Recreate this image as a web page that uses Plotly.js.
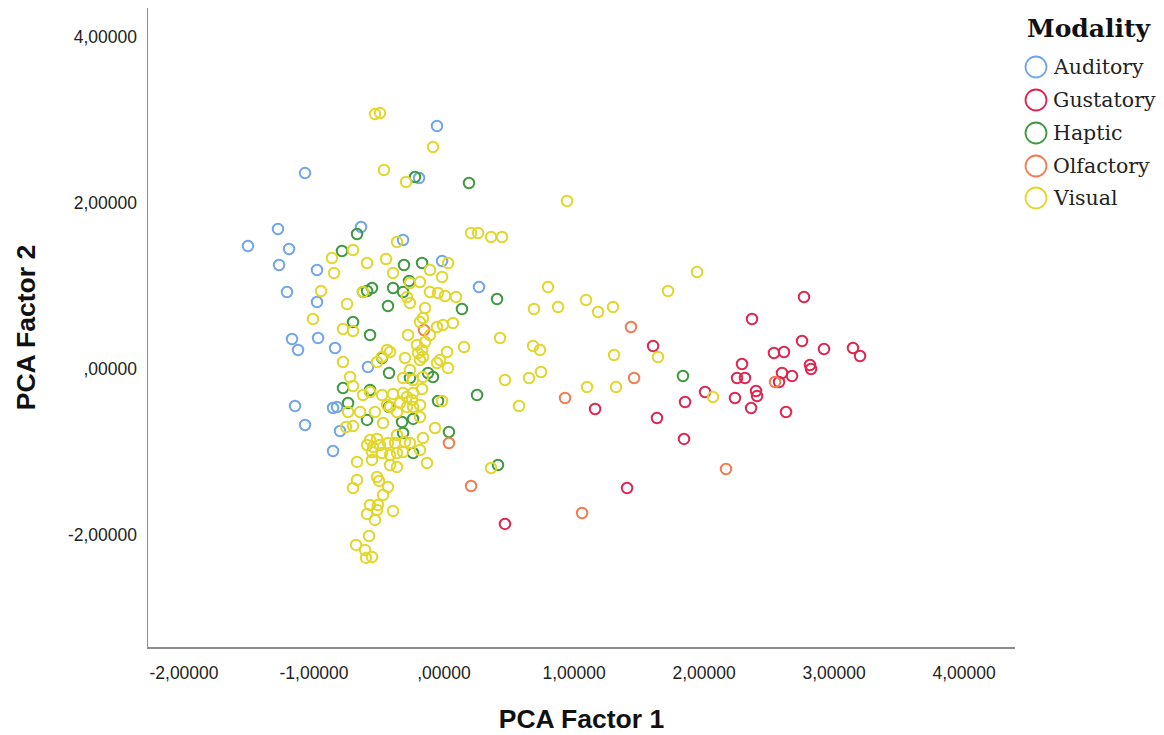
<!DOCTYPE html>
<html>
<head>
<meta charset="utf-8">
<script src="https://cdn.plot.ly/plotly-3.0.1.min.js"></script>
<style>html,body{margin:0;padding:0;background:#fff;}#chart{width:1164px;height:735px;}</style>
</head>
<body>
<div id="chart"></div>
<script>
// ---- Data ----
const modalities = ["Auditory", "Gustatory", "Haptic", "Olfactory", "Visual"];
const modalityColors = ["#6fa6ee", "#e0254f", "#3f9a3f", "#f57b4f", "#e2d72b"];

const auditoryX = [-0.054,-1.069,-0.192,-1.277,-0.638,-1.508,-1.192,-0.315,-1.269,-0.977,-0.015,-1.208,-0.977,-1.169,-1.123,-0.969,-0.838,-0.585,-1.146,-0.854,-0.823,-1.069,-0.800,-0.854,0.269];
const auditoryY = [2.928,2.361,2.301,1.687,1.711,1.482,1.446,1.554,1.253,1.193,1.301,0.928,0.807,0.361,0.229,0.373,0.253,0.024,-0.446,-0.470,-0.458,-0.675,-0.747,-0.988,0.988];

const gustatoryX = [1.608,2.769,2.369,2.538,2.615,2.754,2.923,3.146,3.200,2.292,2.254,2.315,2.600,2.677,2.815,2.823,2.577,2.400,2.408,2.238,2.362,2.631,2.008,1.854,1.638,1.846,1.408,1.162,0.469];
const gustatoryY = [0.277,0.867,0.602,0.193,0.205,0.337,0.241,0.253,0.157,0.060,-0.108,-0.108,-0.048,-0.084,0.048,0.000,-0.157,-0.265,-0.325,-0.349,-0.470,-0.518,-0.277,-0.398,-0.590,-0.843,-1.434,-0.482,-1.867];

const hapticX = [-0.223,0.192,-0.669,-0.785,-0.308,-0.169,-0.269,-0.623,-0.592,-0.554,-0.392,-0.315,-0.431,0.138,0.408,-0.700,-0.569,-0.477,-0.423,-0.262,-0.123,-0.085,-0.777,-0.569,-0.046,0.254,-0.738,-0.423,-0.592,-0.323,-0.238,0.038,-0.315,-0.238,1.838,0.415];
const hapticY = [2.313,2.241,1.627,1.422,1.253,1.277,1.060,0.928,0.940,0.976,0.976,0.928,0.759,0.723,0.843,0.566,0.410,0.133,-0.048,-0.108,-0.048,-0.096,-0.229,-0.253,-0.386,-0.313,-0.410,-0.458,-0.614,-0.639,-0.602,-0.759,-0.771,-1.012,-0.084,-1.157];

const olfactoryX = [-0.154,0.038,1.438,1.462,0.931,2.169,0.208,1.062,2.546];
const olfactoryY = [0.470,-0.892,0.506,-0.108,-0.349,-1.205,-1.410,-1.735,-0.157];

const visualX = [
 -0.531,-0.492,-0.085,-0.462,-0.292,0.946,0.208,0.262,0.362,0.446,-0.362,-0.700,-0.862,-0.446,-0.592,0.031,-0.846,-0.392,-0.946,-0.746,-1.008,-0.777,-0.700,-0.777,-0.723,-0.700,-0.623,
 -0.262,-0.185,-0.108,-0.015,-0.623,-0.285,-0.262,-0.108,-0.046,0.008,0.092,-0.146,-0.162,-0.185,-0.054,-0.008,0.069,-0.277,-0.108,-0.146,-0.208,-0.169,-0.200,-0.162,-0.185,0.154,0.023,-0.031,-0.054,0.031,
 -0.438,-0.415,-0.477,-0.515,-0.300,-0.262,-0.238,-0.315,-0.162,-0.169,-0.477,-0.392,-0.315,-0.285,-0.238,-0.246,-0.438,-0.415,-0.338,-0.285,-0.238,-0.362,-0.185,-0.015,
 -0.569,-0.738,-0.646,-0.531,-0.700,-0.754,-0.469,-0.185,-0.069,-0.362,-0.569,-0.515,-0.592,-0.546,-0.492,-0.431,-0.377,-0.300,-0.262,-0.162,-0.554,-0.477,-0.415,-0.362,-0.315,-0.185,
 -0.669,-0.554,-0.415,-0.362,-0.131,0.362,-0.669,-0.700,-0.515,-0.500,-0.431,-0.469,-0.569,-0.508,-0.592,-0.515,-0.392,-0.531,-0.577,-0.677,-0.608,-0.600,-0.554,
 0.800,1.946,1.723,0.692,0.877,1.092,1.185,1.300,0.431,0.685,0.738,1.646,1.308,0.746,0.654,0.469,1.100,1.323,2.069,0.577
];
const visualY = [
 3.072,3.084,2.675,2.398,2.253,2.024,1.639,1.639,1.590,1.590,1.530,1.434,1.337,1.325,1.277,1.277,1.157,1.157,0.940,0.783,0.602,0.482,0.458,0.084,-0.096,-0.205,-0.313,
 1.036,1.048,1.193,1.108,0.928,0.867,0.795,0.928,0.916,0.880,0.867,0.735,0.614,0.566,0.506,0.530,0.554,0.410,0.410,0.325,0.289,0.229,0.193,0.145,0.108,0.265,0.205,0.108,0.072,0.012,
 0.229,0.205,0.145,0.084,0.133,-0.012,-0.133,-0.108,-0.096,-0.241,-0.313,-0.301,-0.289,-0.337,-0.289,-0.373,-0.434,-0.458,-0.410,-0.458,-0.458,-0.518,-0.434,-0.386,
 -0.277,-0.518,-0.518,-0.518,-0.687,-0.699,-0.651,-0.578,-0.711,-0.795,-0.855,-0.843,-0.916,-0.940,-0.916,-0.892,-0.892,-0.880,-0.892,-0.831,-1.000,-1.012,-1.036,-1.012,-1.000,-0.976,
 -1.120,-1.096,-1.157,-1.181,-1.133,-1.193,-1.337,-1.434,-1.301,-1.349,-1.422,-1.518,-1.639,-1.639,-1.747,-1.699,-1.711,-1.819,-2.012,-2.120,-2.181,-2.277,-2.265,
 0.988,1.169,0.940,0.723,0.747,0.831,0.687,0.747,0.373,0.277,0.229,0.145,0.169,-0.036,-0.108,-0.133,-0.217,-0.217,-0.337,-0.446
];

const tickVals = [-2, -1, 0, 1, 2, 3, 4];
const xTickText = ["-2,00000", "-1,00000", ",00000", "1,00000", "2,00000", "3,00000", "4,00000"];
const yTickVals = [-2, 0, 2, 4];
const yTickText = ["-2,00000", ",00000", "2,00000", "4,00000"];

const seriesX = [auditoryX, gustatoryX, hapticX, olfactoryX, visualX];
const seriesY = [auditoryY, gustatoryY, hapticY, olfactoryY, visualY];

// ---- Traces ----
const traces = modalities.map((name, i) => ({
  type: "scatter",
  mode: "markers",
  name: name,
  x: seriesX[i],
  y: seriesY[i],
  showlegend: false,
  marker: { symbol: "circle-open", size: 10.5, color: modalityColors[i], line: { width: 2, color: modalityColors[i] } },
  hoverinfo: "x+y+name"
}));

// ---- Custom legend (bigger symbols as in the reference) ----
const plotL = 148, plotR = 1015, plotT = 8, plotB = 647;
const toPX = px => (px - plotL) / (plotR - plotL);
const toPY = py => (plotB - py) / (plotB - plotT);
const legendRows = [67, 100, 133, 166, 198];

const shapes = modalities.map((name, i) => ({
  type: "circle", xref: "paper", yref: "paper",
  xsizemode: "pixel", ysizemode: "pixel",
  xanchor: toPX(1036), yanchor: toPY(legendRows[i]),
  x0: -10.5, x1: 10.5, y0: -10.5, y1: 10.5,
  line: { color: modalityColors[i], width: 1.8 }
}));

const annotations = [{
  text: "<b>Modality</b>", xref: "paper", yref: "paper",
  x: toPX(1089), y: toPY(28), xanchor: "center", yanchor: "middle",
  showarrow: false, font: { family: "DejaVu Serif", size: 25, color: "#111" }
}].concat(modalities.map((name, i) => ({
  text: name, xref: "paper", yref: "paper",
  x: toPX(1051), y: toPY(legendRows[i]), xanchor: "left", yanchor: "middle",
  showarrow: false, font: { family: "DejaVu Serif", size: 20.5, color: "#222" }
})));

const layout = {
  width: 1164, height: 735,
  margin: { l: plotL, r: 1164 - plotR, t: plotT, b: 735 - plotB, pad: 0 },
  paper_bgcolor: "#ffffff", plot_bgcolor: "#ffffff",
  showlegend: false,
  xaxis: {
    range: [-2.277, 4.392],
    tickvals: tickVals, ticktext: xTickText,
    showgrid: false, zeroline: false,
    showline: true, linecolor: "#8c8c8c", linewidth: 1.5, mirror: false,
    ticks: "", ticklabelstandoff: 9,
    tickfont: { family: "Liberation Sans, Arial", size: 17.5, color: "#222" },
    title: { text: "<b>PCA Factor 1</b>", standoff: 28, font: { family: "Liberation Sans, Arial", size: 26.5, color: "#111" } }
  },
  yaxis: {
    range: [-3.35, 4.35],
    tickvals: yTickVals, ticktext: yTickText,
    showgrid: false, zeroline: false,
    showline: true, linecolor: "#8c8c8c", linewidth: 1.5, mirror: false,
    ticks: "", ticklabelstandoff: 6,
    tickfont: { family: "Liberation Sans, Arial", size: 17.5, color: "#222" },
    title: { text: "<b>PCA Factor 2</b>", standoff: 24, font: { family: "Liberation Sans, Arial", size: 26.5, color: "#111" } }
  },
  shapes: shapes,
  annotations: annotations
};

Plotly.newPlot("chart", traces, layout, { staticPlot: true, displayModeBar: false });
</script>
</body>
</html>
